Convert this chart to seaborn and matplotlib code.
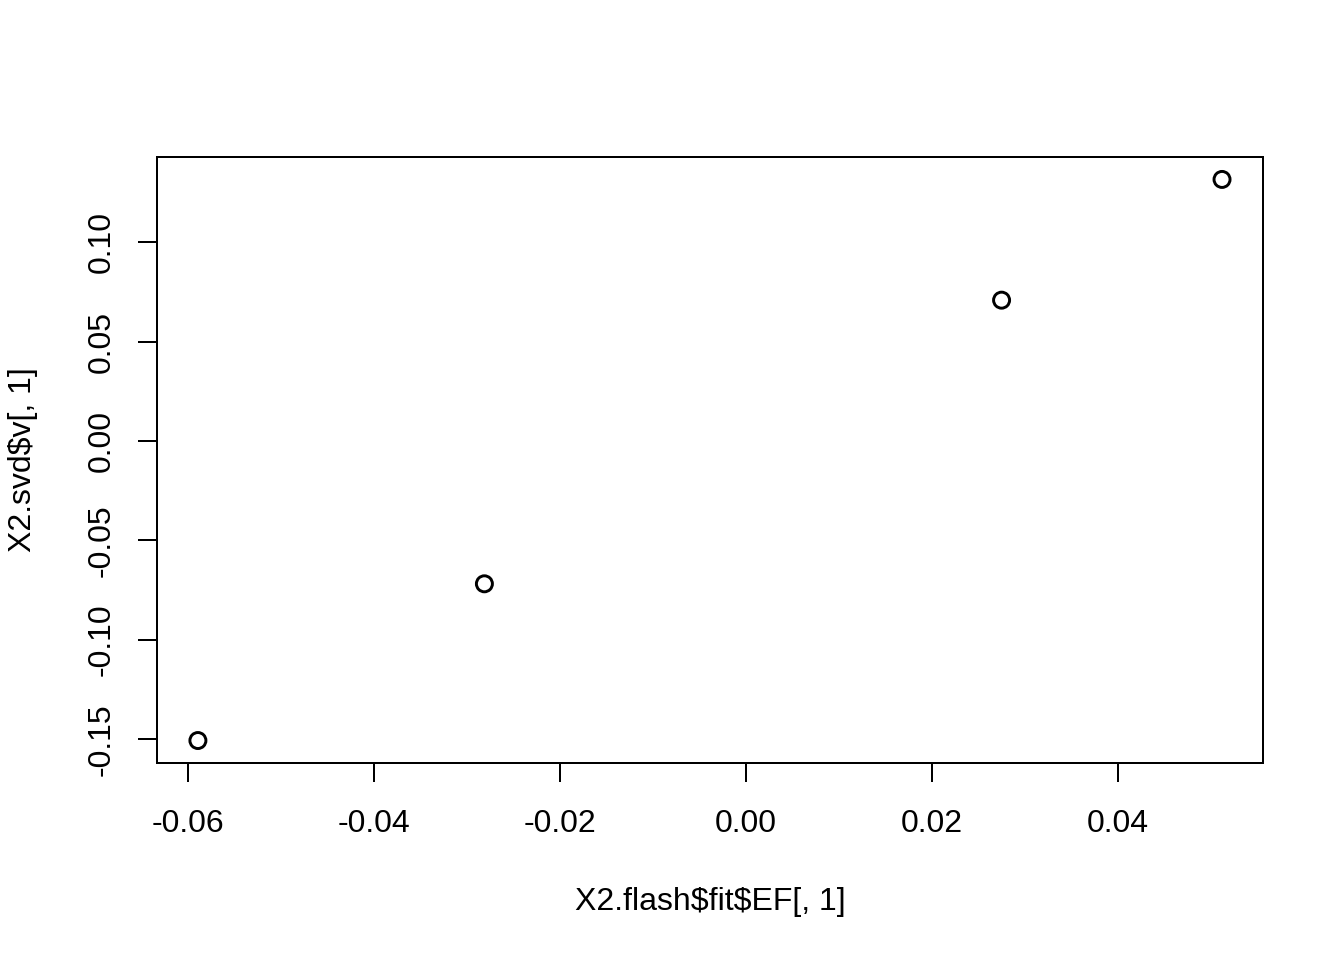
import matplotlib
matplotlib.use('Agg')
import matplotlib.pyplot as plt
import seaborn as sns
import pandas as pd

# Werte
flash_ef = [-0.0589, -0.0281, 0.0275, 0.0512]
svd_v = [-0.1506, -0.0718, 0.0708, 0.1315]
x_ticks = [-0.06, -0.04, -0.02, 0.00, 0.02, 0.04]
y_ticks = [-0.15, -0.10, -0.05, 0.00, 0.05, 0.10]

df = pd.DataFrame({'ef': flash_ef, 'v': svd_v})

sns.set_style("white")
plt.rcParams['font.family'] = ['Liberation Sans', 'DejaVu Sans']
plt.rcParams['text.color'] = 'black'
plt.rcParams['axes.labelcolor'] = 'black'
plt.rcParams['xtick.color'] = 'black'
plt.rcParams['ytick.color'] = 'black'

fig = plt.figure(figsize=(7, 5), dpi=192)
ax = fig.add_axes([0.1168, 0.2052, 0.8229, 0.6313])

sns.scatterplot(data=df, x='ef', y='v', ax=ax, marker='o', s=36,
                facecolor='none', edgecolor='black', linewidth=1.1)

ax.set_xlim(-0.0633, 0.0556)
ax.set_ylim(-0.1619, 0.1428)
ax.set_xticks(x_ticks)
ax.set_xticklabels([f"{t:.2f}" for t in x_ticks], fontsize=12)
ax.set_yticks(y_ticks)
ax.set_yticklabels([f"{t:.2f}" for t in y_ticks], fontsize=12,
                   rotation=90, va='center')

for s in ax.spines.values():
    s.set_color('black')
    s.set_linewidth(0.75)
ax.tick_params(direction='out', length=7.2, width=0.75, color='black',
               labelcolor='black', left=True, bottom=True)
ax.tick_params(axis='x', pad=10)
ax.tick_params(axis='y', pad=8)

ax.set_xlabel(r'X2.flash\$fit\$EF[, 1]', fontsize=12, labelpad=18)
ax.set_ylabel(r'X2.svd\$v[, 1]', fontsize=12, labelpad=18)

plt.savefig('out.png', dpi=192)
plt.close()
